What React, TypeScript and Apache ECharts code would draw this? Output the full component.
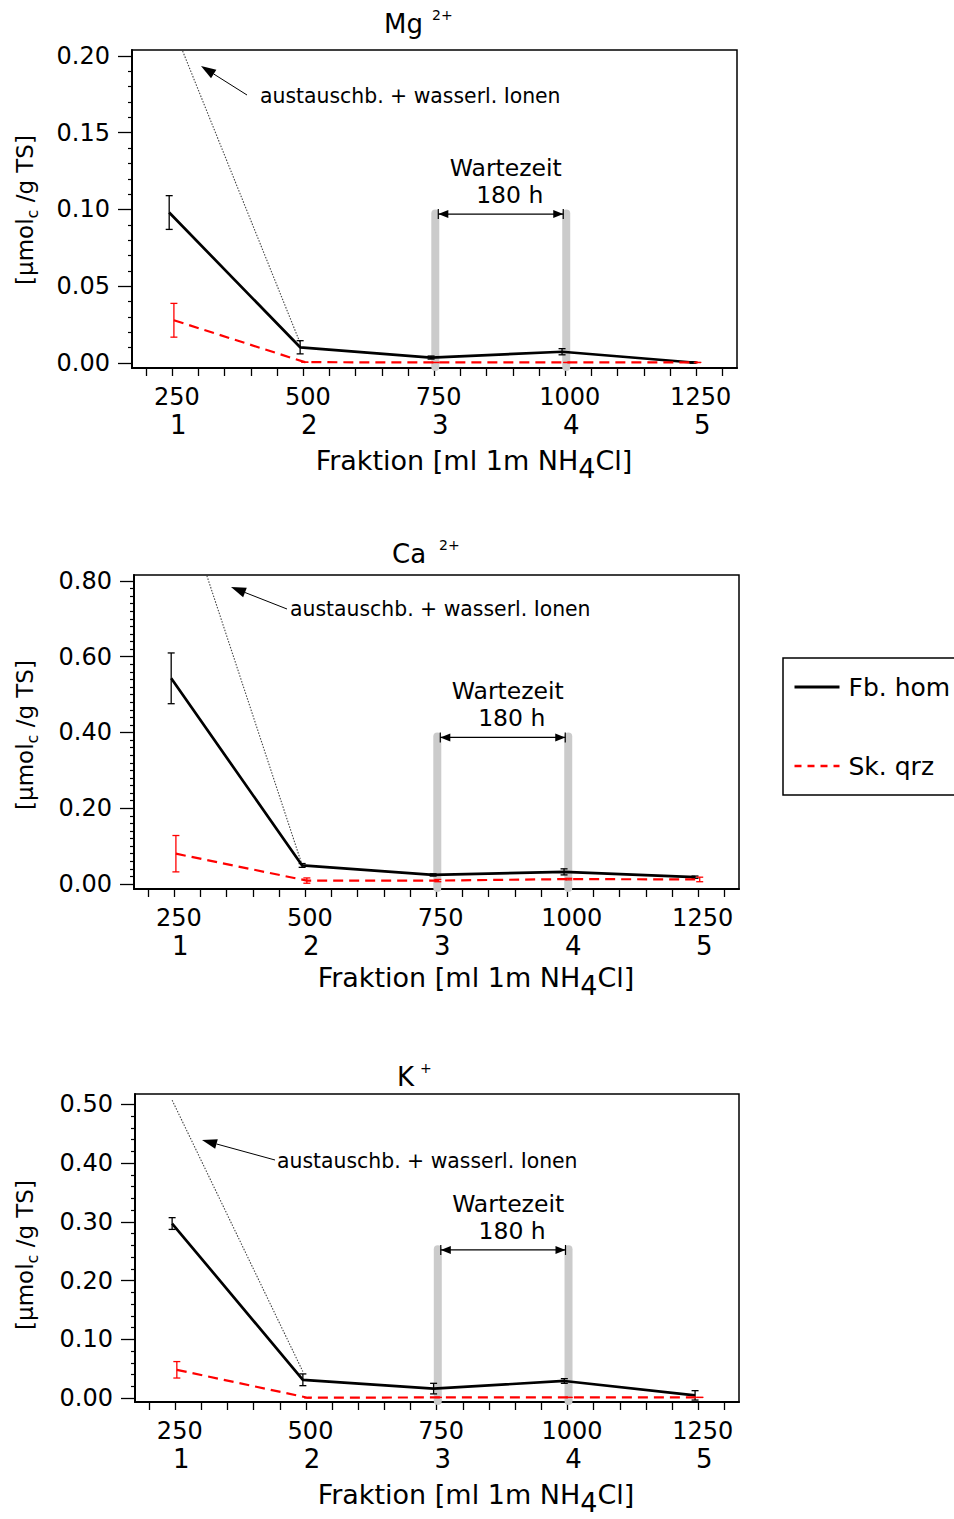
import React, { useEffect, useRef } from 'react';
import * as echarts from 'echarts';

const FONT = '"DejaVu Sans", "Liberation Sans", sans-serif';

// Eluted volume of each fraction (ml 1 m NH4Cl) and the fraction number below it
const volumes = [250, 500, 750, 1000, 1250];
const fractionNo = ['1', '2', '3', '4', '5'];
const volumeTicks = [200, 250, 300, 350, 400, 450, 500, 550, 600, 650, 700, 750, 800, 850, 900, 950, 1000, 1050, 1100, 1150, 1200, 1250, 1300];

// Series names
const FB = 'Fb. hom';
const SK = 'Sk. qrz';

// Mg2+ [µmol_c / g TS]
const mgFb = [0.098, 0.0102, 0.0035, 0.0073, 0.0003];
const mgFbErr = [0.011, 0.0043, 0.001, 0.002, 0.0005];
const mgSk = [0.0278, 0.0005, 0.0003, 0.0003, 0.0003];
const mgSkErr = [0.011, 0, 0, 0, 0];
const mgIonLine = [0.225, 0.013];
const mgTicks = [0, 0.05, 0.1, 0.15, 0.2];

// Ca2+ [µmol_c / g TS]
const caFb = [0.543, 0.049, 0.024, 0.032, 0.018];
const caFbErr = [0.067, 0.005, 0.003, 0.008, 0.003];
const caSk = [0.08, 0.009, 0.009, 0.013, 0.012];
const caSkErr = [0.048, 0.007, 0.003, 0.002, 0.006];
const caIonLine = [1.1, 0.05];
const caTicks = [0, 0.2, 0.4, 0.6, 0.8];

// K+ [µmol_c / g TS]
const kFb = [0.297, 0.031, 0.016, 0.029, 0.0045];
const kFbErr = [0.01, 0.01, 0.009, 0.004, 0.008];
const kSk = [0.048, 0.0005, 0.001, 0.001, 0.001];
const kSkErr = [0.014, 0, 0, 0, 0];
const kIonLine = [0.507, 0.045];
const kTicks = [0, 0.1, 0.2, 0.3, 0.4, 0.5];

// Waiting period between fraction 3 and 4: [from, to, bar top, arrow level]
const mgWait = [752, 1002, 0.1, 0.097];
const caWait = [752, 1002, 0.4, 0.387];
const kWait = [752, 1002, 0.26, 0.252];

// small horizontal dodge so the two samples' error bars do not overlap
const FB_SHIFT = -6;
const SK_SHIFT = 3;

const X_MIN = 173;
const X_MAX = 1328;

const panels = [
  {
    ion: 'Mg', charge: '2+', fb: mgFb, fbErr: mgFbErr, sk: mgSk, skErr: mgSkErr,
    ionLine: mgIonLine, ticks: mgTicks, minorStep: 0.01, yMin: -0.0033, yMax: 0.2039, wait: mgWait,
    grid: { left: 132, top: 50, width: 605, height: 318 },
    title: { x: 384, y: 24, sx: 432, sy: 15 },
    yName: [25, 210], xName: [474, 460],
    note: { text: [260, 96], tail: [247, 95], tip: [201, 66] },
  },
  {
    ion: 'Ca', charge: '2+', fb: caFb, fbErr: caFbErr, sk: caSk, skErr: caSkErr,
    ionLine: caIonLine, ticks: caTicks, minorStep: 0.02, yMin: -0.0132, yMax: 0.8158, wait: caWait,
    grid: { left: 134, top: 575, width: 605, height: 314 },
    title: { x: 392, y: 554, sx: 439, sy: 545 },
    yName: [25, 735], xName: [476, 977],
    note: { text: [290, 609], tail: [287, 609], tip: [231, 587] },
  },
  {
    ion: 'K', charge: '+', fb: kFb, fbErr: kFbErr, sk: kSk, skErr: kSkErr,
    ionLine: kIonLine, ticks: kTicks, minorStep: 0.02, yMin: -0.0068, yMax: 0.5175, wait: kWait,
    grid: { left: 135, top: 1094, width: 604, height: 308 },
    title: { x: 397, y: 1077, sx: 420, sy: 1068 },
    yName: [25, 1255], xName: [476, 1494],
    note: { text: [277, 1161], tail: [275, 1160], tip: [202, 1140] },
  },
];

let measureCtx: CanvasRenderingContext2D | null = null;
function textWidth(t: string, size: number): number {
  if (!measureCtx) measureCtx = document.createElement('canvas').getContext('2d');
  if (!measureCtx) return t.length * size * 0.6;
  measureCtx.font = `${size}px "DejaVu Sans"`;
  return measureCtx.measureText(t).width;
}

function minorValues(max: number, step: number, majors: number[]): number[] {
  const out: number[] = [];
  for (let k = 1; k * step <= max + 1e-9; k++) {
    const v = +(k * step).toFixed(4);
    if (!majors.some((m) => Math.abs(m - v) < 1e-9)) out.push(v);
  }
  return out;
}

const errorBarItem = (color: string) => (params: any, api: any) => {
  const x = api.value(0);
  const m = api.value(1);
  const e = api.value(2);
  const top = api.coord([x, m + e]);
  const bot = api.coord([x, m - e]);
  const cap = 3.5;
  const st = { stroke: color, lineWidth: 1.3 };
  return {
    type: 'group',
    children: [
      { type: 'line', shape: { x1: top[0], y1: top[1], x2: bot[0], y2: bot[1] }, style: st },
      { type: 'line', shape: { x1: top[0] - cap, y1: top[1], x2: top[0] + cap, y2: top[1] }, style: st },
      { type: 'line', shape: { x1: bot[0] - cap, y1: bot[1], x2: bot[0] + cap, y2: bot[1] }, style: st },
    ],
  };
};

const waitItem = (params: any, api: any) => {
  const x1 = api.value(0);
  const x2 = api.value(1);
  const topV = api.value(2);
  const arrowV = api.value(3);
  const cs = params.coordSys;
  const bottom = cs.y + cs.height - 1;
  const a = api.coord([x1, topV]);
  const b = api.coord([x2, topV]);
  const ya = api.coord([x1, arrowV])[1];
  const bw = 8;
  const grey = { stroke: '#cbcbcb', lineWidth: bw, lineCap: 'round' };
  const l = a[0] + bw / 2 - 1;
  const r = b[0] - bw / 2 + 1;
  const head = 10;
  const hw = 4;
  const blk = { stroke: '#000', lineWidth: 1.2 };
  const mid = (a[0] + b[0]) / 2;
  const font = `23.5px ${FONT}`;
  return {
    type: 'group',
    children: [
      { type: 'line', shape: { x1: a[0], y1: bottom, x2: a[0], y2: a[1] + bw / 2 }, style: grey },
      { type: 'line', shape: { x1: b[0], y1: bottom, x2: b[0], y2: b[1] + bw / 2 }, style: grey },
      { type: 'line', shape: { x1: l, y1: ya, x2: r, y2: ya }, style: blk },
      { type: 'polygon', shape: { points: [[l, ya], [l + head, ya - hw], [l + head, ya + hw]] }, style: { fill: '#000' } },
      { type: 'polygon', shape: { points: [[r, ya], [r - head, ya - hw], [r - head, ya + hw]] }, style: { fill: '#000' } },
      { type: 'line', shape: { x1: l, y1: ya - 5, x2: l, y2: ya + 5 }, style: blk },
      { type: 'line', shape: { x1: r, y1: ya - 5, x2: r, y2: ya + 5 }, style: blk },
      {
        type: 'text',
        style: { text: 'Wartezeit', x: mid + 5, y: ya - 46, font, fill: '#000', align: 'center', verticalAlign: 'middle', textAlign: 'center', textVerticalAlign: 'middle' },
      },
      {
        type: 'text',
        style: { text: '180 h', x: mid + 9, y: ya - 19, font, fill: '#000', align: 'center', verticalAlign: 'middle', textAlign: 'center', textVerticalAlign: 'middle' },
      },
    ],
  };
};

function txt(text: string, x: number, y: number, size: number, align = 'left', extra: any = {}) {
  return {
    type: 'text',
    x,
    y,
    silent: true,
    style: {
      text,
      font: `${size}px ${FONT}`,
      fill: '#000',
      align,
      verticalAlign: 'middle',
      textAlign: align,
      textVerticalAlign: 'middle',
      ...extra,
    },
  };
}

function buildOption() {
  const grid: any[] = [];
  const xAxis: any[] = [];
  const yAxis: any[] = [];
  const series: any[] = [];
  const graphic: any[] = [];

  panels.forEach((p, i) => {
    grid.push({ ...p.grid, show: true, borderColor: '#000', borderWidth: 1.5, backgroundColor: 'transparent' });

    xAxis.push({
      type: 'value',
      gridIndex: i,
      min: X_MIN,
      max: X_MAX,
      position: 'bottom',
      axisLine: { show: true, onZero: false, lineStyle: { color: '#000', width: 2 } },
      axisTick: { show: true, customValues: volumeTicks, length: 8, lineStyle: { color: '#000', width: 1.3 } },
      axisLabel: {
        show: true,
        customValues: volumes,
        margin: 14,
        formatter: (v: number) => `{v|${v}}\n{n|${fractionNo[volumes.indexOf(v)]}}`,
        rich: {
          v: { fontSize: 24, lineHeight: 30, fontFamily: FONT, color: '#000', padding: [0, 0, 0, 9] },
          n: { fontSize: 26, lineHeight: 26, fontFamily: FONT, color: '#000', padding: [0, 0, 0, 12] },
        },
      },
      splitLine: { show: false },
    });

    yAxis.push({
      type: 'value',
      gridIndex: i,
      position: 'left',
      min: p.yMin,
      max: p.yMax,
      axisLine: { show: true, onZero: false, lineStyle: { color: '#000', width: 2 } },
      axisTick: { show: true, customValues: p.ticks, length: 14, lineStyle: { color: '#000', width: 1.3 } },
      axisLabel: {
        show: true,
        customValues: p.ticks,
        formatter: (v: number) => v.toFixed(2),
        margin: 22,
        fontSize: 24,
        fontFamily: FONT,
        color: '#000',
      },
      splitLine: { show: false },
    });
    // minor ticks of the same axis
    yAxis.push({
      type: 'value',
      gridIndex: i,
      position: 'left',
      offset: 0,
      min: p.yMin,
      max: p.yMax,
      axisLine: { show: false },
      axisTick: { show: true, customValues: minorValues(p.yMax, p.minorStep, p.ticks), length: 4, lineStyle: { color: '#000', width: 1.2 } },
      axisLabel: { show: false },
      splitLine: { show: false },
    });

    const yi = 2 * i;

    series.push({
      type: 'custom',
      name: 'Wartezeit',
      xAxisIndex: i,
      yAxisIndex: yi,
      silent: true,
      z: 1,
      renderItem: waitItem,
      encode: { x: [0, 1], y: [2, 3] },
      data: [p.wait],
    });

    series.push({
      type: 'line',
      name: 'austauschb. + wasserl. Ionen',
      xAxisIndex: i,
      yAxisIndex: yi,
      silent: true,
      z: 2,
      symbol: 'none',
      lineStyle: { color: '#444', width: 1.1, type: [1.5, 1.5] },
      data: [
        [volumes[0] + FB_SHIFT, p.ionLine[0]],
        [volumes[1] + FB_SHIFT, p.ionLine[1]],
      ],
    });

    series.push({
      type: 'line',
      name: FB,
      xAxisIndex: i,
      yAxisIndex: yi,
      z: 3,
      symbol: 'none',
      lineStyle: { color: '#000', width: 2.7 },
      itemStyle: { color: '#000' },
      data: volumes.map((v, k) => [v + FB_SHIFT, p.fb[k]]),
    });
    series.push({
      type: 'custom',
      name: FB + ' SD',
      xAxisIndex: i,
      yAxisIndex: yi,
      z: 3,
      renderItem: errorBarItem('#000'),
      encode: { x: 0, y: 1 },
      data: volumes.map((v, k) => [v + FB_SHIFT, p.fb[k], p.fbErr[k]]),
    });

    series.push({
      type: 'line',
      name: SK,
      xAxisIndex: i,
      yAxisIndex: yi,
      z: 4,
      symbol: 'none',
      lineStyle: { color: '#ff0000', width: 2.2, type: [10, 6] },
      itemStyle: { color: '#ff0000' },
      data: volumes.map((v, k) => [v + SK_SHIFT, p.sk[k]]),
    });
    series.push({
      type: 'custom',
      name: SK + ' SD',
      xAxisIndex: i,
      yAxisIndex: yi,
      z: 4,
      renderItem: errorBarItem('#ff0000'),
      encode: { x: 0, y: 1 },
      data: volumes.map((v, k) => [v + SK_SHIFT, p.sk[k], p.skErr[k]]),
    });

    // ion title with charge as superscript
    graphic.push(txt(p.ion, p.title.x, p.title.y, 26));
    graphic.push(txt(p.charge, p.title.sx, p.title.sy, 14));

    // y axis title, rotated, with subscript c
    const s1 = '[\u03bcmol';
    const s2 = 'c';
    const s3 = ' /g TS]';
    const ys = 23;
    const w1 = textWidth(s1, ys);
    const w2 = textWidth(s2, 16);
    const w3 = textWidth(s3, ys);
    const x0 = -(w1 + w2 + w3) / 2;
    graphic.push({
      type: 'group',
      x: p.yName[0],
      y: p.yName[1],
      rotation: Math.PI / 2,
      silent: true,
      children: [
        txt(s1, x0, 0, ys),
        txt(s2, x0 + w1, 7, 16),
        txt(s3, x0 + w1 + w2, 0, ys),
      ],
    });

    // x axis title with NH4 subscript
    const a1 = 'Fraktion [ml 1m NH';
    const a2 = '4';
    const a3 = 'Cl]';
    const xs = 27;
    const v1 = textWidth(a1, xs);
    const v2 = textWidth(a2, xs);
    const v3 = textWidth(a3, xs);
    const bx = p.xName[0] - (v1 + v2 + v3) / 2;
    graphic.push(txt(a1, bx, p.xName[1], xs));
    graphic.push(txt(a2, bx + v1, p.xName[1] + 8, xs));
    graphic.push(txt(a3, bx + v1 + v2, p.xName[1], xs));

    // pointer to the dotted line
    const n = p.note;
    const dx = n.tip[0] - n.tail[0];
    const dy = n.tip[1] - n.tail[1];
    const len = Math.hypot(dx, dy);
    const ux = dx / len;
    const uy = dy / len;
    const hl = 15;
    const hw = 5;
    const bxh = n.tip[0] - ux * hl;
    const byh = n.tip[1] - uy * hl;
    graphic.push({
      type: 'line',
      silent: true,
      shape: { x1: n.tail[0], y1: n.tail[1], x2: bxh, y2: byh },
      style: { stroke: '#000', lineWidth: 1 },
    });
    graphic.push({
      type: 'polygon',
      silent: true,
      shape: {
        points: [
          [n.tip[0], n.tip[1]],
          [bxh - uy * hw, byh + ux * hw],
          [bxh + uy * hw, byh - ux * hw],
        ],
      },
      style: { fill: '#000' },
    });
    graphic.push(txt('austauschb. + wasserl. Ionen', n.text[0], n.text[1], 20.4));
  });

  // legend frame (runs past the right page edge)
  graphic.push({
    type: 'rect',
    silent: true,
    shape: { x: 783, y: 658, width: 220, height: 137 },
    style: { fill: 'none', stroke: '#000', lineWidth: 1.5 },
  });

  return {
    animation: false,
    backgroundColor: '#fff',
    textStyle: { fontFamily: FONT, color: '#000' },
    grid,
    xAxis,
    yAxis,
    series,
    graphic,
    legend: {
      show: true,
      orient: 'vertical',
      left: 793,
      top: 672,
      padding: 0,
      itemWidth: 45,
      itemHeight: 14,
      itemGap: 49,
      selectedMode: false,
      textStyle: { fontSize: 25, lineHeight: 30, fontFamily: FONT, color: '#000', padding: [0, 0, 0, 4] },
      data: [
        { name: FB, lineStyle: { width: 3, color: '#000' }, itemStyle: { opacity: 0, color: 'transparent', borderWidth: 0 } },
        { name: SK, lineStyle: { width: 2.5, color: '#ff0000', type: [7, 6] }, itemStyle: { opacity: 0, color: 'transparent', borderWidth: 0 } },
      ],
    },
  };
}

export default function App() {
  const ref = useRef<HTMLDivElement>(null);
  useEffect(() => {
    if (!ref.current) return;
    const chart = echarts.init(ref.current, null, { renderer: 'svg' });
    chart.setOption(buildOption() as any);
    return () => chart.dispose();
  }, []);
  return (
    <div
      ref={ref}
      style={{ position: 'absolute', left: 0, top: 0, width: 954, height: 1519, background: '#fff' }}
    />
  );
}
